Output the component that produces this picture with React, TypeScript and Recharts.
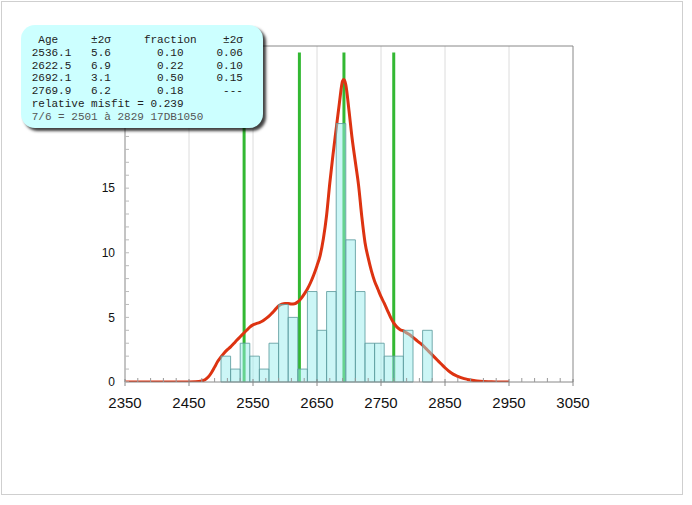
import React from 'react';
import { ComposedChart, Line, XAxis, YAxis, ReferenceLine, ReferenceArea } from 'recharts';

// ---- data ----
const curveX = [
  2350, 2400, 2450, 2460, 2470, 2475, 2480, 2485, 2490, 2495, 2500, 2505, 2510, 2515, 2520, 2525,
  2530, 2535, 2540, 2545, 2550, 2555, 2560, 2565, 2570, 2575, 2580, 2585, 2590, 2595, 2600, 2605,
  2610, 2615, 2620, 2625, 2630, 2635, 2640, 2645, 2650, 2655, 2660, 2665, 2670, 2675, 2680, 2685,
  2690, 2692, 2695, 2700, 2705, 2710, 2715, 2720, 2725, 2730, 2735, 2740, 2745, 2750, 2755, 2760,
  2765, 2770, 2775, 2780, 2785, 2790, 2795, 2800, 2805, 2810, 2815, 2820, 2825, 2830, 2835, 2840,
  2845, 2850, 2855, 2860, 2865, 2870, 2875, 2880, 2885, 2890, 2895, 2900, 2910, 2920, 2935, 2950,
];
const curveY = [
  0, 0, 0, 0.01, 0.08, 0.18, 0.38, 0.72, 1.15, 1.6, 1.95, 2.25, 2.5, 2.72, 2.98, 3.25,
  3.5, 3.75, 4.0, 4.25, 4.42, 4.52, 4.6, 4.72, 4.9, 5.1, 5.35, 5.62, 5.88, 6.02, 6.08, 6.08,
  6.03, 6.05, 6.2, 6.45, 6.8, 7.2, 7.7, 8.3, 9.0, 9.8, 11.1, 12.9, 15.4, 17.6, 19.6, 21.6,
  23.3, 23.4, 23.0, 21.0, 18.8, 17.0, 15.2, 12.8, 10.8, 9.6, 8.6, 7.8, 7.2, 6.6, 6.1, 5.55,
  5.0, 4.55, 4.25, 4.05, 3.95, 3.8, 3.65, 3.45, 3.25, 3.05, 2.85, 2.6, 2.35, 2.1, 1.85, 1.6,
  1.35, 1.1, 0.88, 0.7, 0.55, 0.44, 0.34, 0.26, 0.2, 0.15, 0.11, 0.08, 0.04, 0.02, 0, 0,
];

const binStarts = [
  2500, 2515, 2530, 2545, 2560, 2575, 2590, 2605, 2620, 2635, 2650,
  2665, 2680, 2695, 2710, 2725, 2740, 2755, 2770, 2785, 2800, 2815,
];
const binCounts = [2, 1, 3, 2, 1, 3, 6, 5, 1, 7, 4, 7, 20, 11, 7, 3, 3, 2, 2, 4, 0, 4];
const binWidth = 15;

const peakAges = [2536.1, 2622.5, 2692.1, 2769.9];
const peakLineTop = 25.5;

const xDomain = [2350, 3050];
const yDomain = [0, 26];
const xLabelValues = [2350, 2450, 2550, 2650, 2750, 2850, 2950, 3050];
const gridXValues = [2450, 2550, 2650, 2750, 2850, 2950];
const yLabelValues = [0, 5, 10, 15];

const legendAges = ['2536.1', '2622.5', '2692.1', '2769.9'];
const legendAgeErr = ['5.6', '6.9', '3.1', '6.2'];
const legendFrac = ['0.10', '0.22', '0.50', '0.18'];
const legendFracErr = ['0.06', '0.10', '0.15', '---'];
const legendMisfit = 'relative misfit = 0.239';
const legendFooter = '7/6 = 2501 à 2829 17DB1050';

// ticks (axis positions)
const xTicks: number[] = [];
for (let v = xDomain[0]; v <= xDomain[1]; v += 20) xTicks.push(v);
const yTicks: number[] = [];
for (let v = yDomain[0]; v <= yDomain[1]; v += 1) yTicks.push(v);

const curveData = curveX.map((x, i) => ({ x, y: curveY[i] }));

const AXIS = '#888';
const FONT = '"Liberation Sans", Arial, sans-serif';

const XTick = (props: any) => {
  const { x, y, payload } = props;
  const v = payload.value;
  const major = xLabelValues.includes(v);
  return (
    <g>
      {major ? (
        <line x1={x} x2={x} y1={y - 3} y2={y + 4} stroke={AXIS} />
      ) : (
        <line x1={x} x2={x} y1={y - 4} y2={y} stroke="#999" />
      )}
      {major && (
        <text x={x} y={y + 26} textAnchor="middle" fontSize={15} fontFamily={FONT} fill="#111">
          {v}
        </text>
      )}
    </g>
  );
};

const YTick = (props: any) => {
  const { x, y, payload } = props;
  const v = payload.value;
  const major = yLabelValues.includes(v);
  return (
    <g>
      <line x1={x} x2={x + 4} y1={y} y2={y} stroke="#bbb" />
      {major && (
        <text x={x - 10} y={y} dy="0.36em" textAnchor="end" fontSize={12} fontFamily={FONT} fill="#111">
          {v}
        </text>
      )}
    </g>
  );
};

const headerLine = ' Age'.padEnd(9) + '±2σ'.padEnd(8) + 'fraction'.padEnd(12) + '±2σ';
const rowLines = legendAges.map(
  (a, i) => a.padEnd(9) + legendAgeErr[i].padEnd(10) + legendFrac[i].padEnd(9) + legendFracErr[i].padStart(4)
);

export default function App() {
  return (
    <div style={{ position: 'absolute', left: 0, top: 0, width: 692, height: 505, background: '#fff' }}>
      <div
        style={{
          position: 'absolute',
          left: 1,
          top: 1,
          width: 680,
          height: 492,
          border: '1px solid #cfcfcf',
        }}
      />
      <div style={{ position: 'absolute', left: 0, top: 0 }}>
        <ComposedChart
          width={692}
          height={505}
          data={curveData}
          margin={{ top: 46, right: 119, bottom: 93, left: 85 }}
        >
          <XAxis
            type="number"
            dataKey="x"
            domain={xDomain}
            ticks={xTicks}
            interval={0}
            tickSize={0}
            tickMargin={0}
            tickLine={false}
            tick={<XTick />}
            height={30}
            axisLine={{ stroke: AXIS }}
            allowDataOverflow
          />
          <YAxis
            type="number"
            domain={yDomain}
            ticks={yTicks}
            interval={0}
            tickSize={0}
            tickMargin={0}
            tickLine={false}
            tick={<YTick />}
            width={40}
            axisLine={{ stroke: AXIS }}
            allowDataOverflow
          />
          {gridXValues.map((v) => (
            <ReferenceLine key={'g' + v} x={v} stroke="#dcdcdc" strokeWidth={1} zIndex={-50} />
          ))}
          <ReferenceLine y={yDomain[1]} stroke={AXIS} strokeWidth={1} zIndex={-40} />
          <ReferenceLine x={xDomain[1]} stroke={AXIS} strokeWidth={1} zIndex={-40} />
          {peakAges.map((a) => (
            <ReferenceLine
              key={'p' + a}
              segment={[
                { x: a, y: 0 },
                { x: a, y: peakLineTop },
              ]}
              stroke="#33b833"
              strokeWidth={3}
              zIndex={350}
            />
          ))}
          <Line
            type="monotone"
            dataKey="y"
            stroke="#dd3311"
            strokeWidth={3}
            dot={false}
            activeDot={false}
            isAnimationActive={false}
            zIndex={400}
          />
          {binStarts.map((s, i) =>
            binCounts[i] > 0 ? (
              <ReferenceArea
                key={'b' + s}
                x1={s}
                x2={s + binWidth}
                y1={0}
                y2={binCounts[i]}
                fill="#99eeee"
                fillOpacity={0.5}
                stroke="#5f9ea0"
                strokeOpacity={0.85}
                strokeWidth={1}
                zIndex={450}
              />
            ) : null
          )}
        </ComposedChart>
      </div>
      <div
        style={{
          position: 'absolute',
          left: 21,
          top: 25,
          width: 242,
          height: 103,
          background: '#ccffff',
          borderRadius: 14,
          boxShadow: '3px 3px 3px rgba(0,0,0,0.75)',
        }}
      />
      <div
        style={{
          position: 'absolute',
          left: 31.7,
          top: 34,
          fontFamily: '"Liberation Mono", "Courier New", monospace',
          fontSize: 11,
          lineHeight: '12.8px',
          whiteSpace: 'pre',
          color: '#222',
        }}
      >
        <div>{headerLine}</div>
        {rowLines.map((r, i) => (
          <div key={i}>{r}</div>
        ))}
        <div>{legendMisfit}</div>
        <div style={{ color: '#555' }}>{legendFooter}</div>
      </div>
    </div>
  );
}
